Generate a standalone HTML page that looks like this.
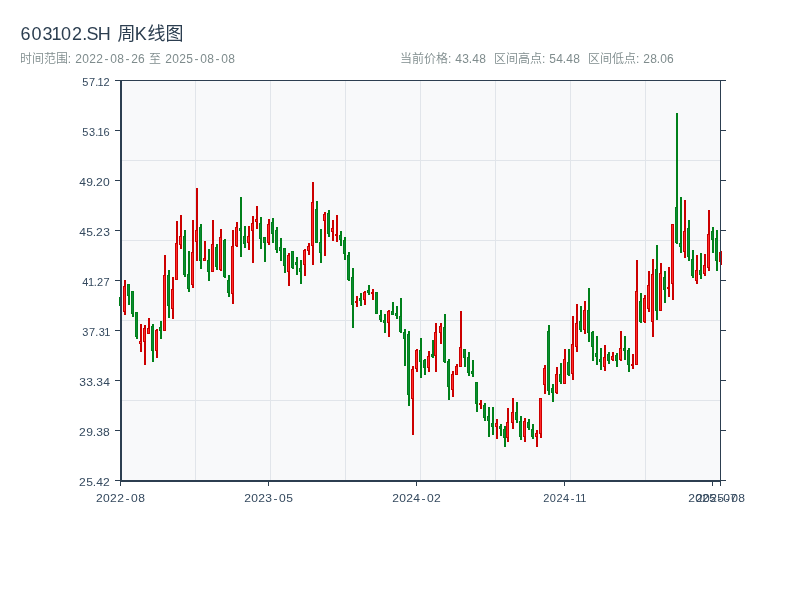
<!DOCTYPE html>
<html lang="zh-CN">
<head>
<meta charset="utf-8">
<title>603102.SH 周K线图</title>
<style>
html,body{margin:0;padding:0;background:#fff;}
body{width:800px;height:600px;overflow:hidden;position:relative;}
svg{position:absolute;left:0;top:0;display:block;}
svg text{font-family:"Liberation Sans","Noto Sans CJK SC",sans-serif;white-space:pre;}
</style>
</head>
<body>
<svg width="800" height="600" viewBox="0 0 800 600">
<g id="header">
<text x="20.43 31.49 42.55 51.5 60.99 71.99 82.25 86.5 97.75 110.5 117.5 134.86 147.5 165.5" y="40" font-size="18" fill="#2c3e50">603102.SH 周K线图</text>
<text x="20 32 44 56 67.83 71 75.16 82.16 89.16 96.16 104.5 110.16 117.16 125.5 131.16 138.12 145 149 161 165.16 172.16 179.16 186.17 194.5 200.16 207.16 215.5 221.16 228.16" y="63" font-size="12" fill="#7f8c8d" font-weight="350">时间范围: 2022-08-26 至 2025-08-08</text>
<text x="400 412 424 436 448.08 451.5 455.2 462.2 468.83 472.2 479.16" y="63" font-size="12" fill="#7f8c8d" font-weight="350">当前价格: 43.48</text>
<text x="494 506 518 530 542.08 545.5 549.17 556.2 562.83 566.2 573.16" y="63" font-size="12" fill="#7f8c8d" font-weight="350">区间高点: 54.48</text>
<text x="588 600 612 624 636.08 639.5 643.16 650.16 656.83 660.16 667.12" y="63" font-size="12" fill="#7f8c8d" font-weight="350">区间低点: 28.06</text>
</g>
<g shape-rendering="crispEdges">
<rect x="120" y="80" width="600" height="400" fill="#f8f9fa"/>
<g fill="#e1e5ea"><rect x="195" y="80" width="1" height="400"/><rect x="270" y="80" width="1" height="400"/><rect x="345" y="80" width="1" height="400"/><rect x="420" y="80" width="1" height="400"/><rect x="495" y="80" width="1" height="400"/><rect x="570" y="80" width="1" height="400"/><rect x="645" y="80" width="1" height="400"/><rect x="120" y="160" width="600" height="1"/><rect x="120" y="240" width="600" height="1"/><rect x="120" y="320" width="600" height="1"/><rect x="120" y="400" width="600" height="1"/></g>
<g id="candles">
<g fill="#00801a"><rect x="120" y="297" width="2" height="9"/><rect x="119" y="297" width="3" height="9"/><rect x="120" y="298" width="1" height="7" fill="#0a8c32"/></g>
<g fill="#cc0000"><rect x="124" y="280" width="2" height="35"/><rect x="123" y="286" width="3" height="26"/><rect x="124" y="287" width="1" height="24" fill="#ff2a2a"/></g>
<g fill="#00801a"><rect x="128" y="284" width="2" height="21"/><rect x="127" y="284" width="3" height="12"/><rect x="128" y="285" width="1" height="10" fill="#0a8c32"/></g>
<g fill="#00801a"><rect x="132" y="291" width="2" height="26"/><rect x="131" y="291" width="3" height="23"/><rect x="132" y="292" width="1" height="21" fill="#0a8c32"/></g>
<g fill="#00801a"><rect x="136" y="312" width="2" height="27"/><rect x="135" y="312" width="3" height="25"/><rect x="136" y="313" width="1" height="23" fill="#0a8c32"/></g>
<g fill="#cc0000"><rect x="140" y="324" width="2" height="28"/><rect x="139" y="341" width="3" height="3"/><rect x="140" y="342" width="1" height="1" fill="#ff2a2a"/></g>
<g fill="#cc0000"><rect x="144" y="325" width="2" height="40"/><rect x="143" y="328" width="3" height="14"/><rect x="144" y="329" width="1" height="12" fill="#ff2a2a"/></g>
<g fill="#cc0000"><rect x="148" y="318" width="2" height="16"/><rect x="147" y="328" width="3" height="6"/><rect x="148" y="329" width="1" height="4" fill="#ff2a2a"/></g>
<g fill="#00801a"><rect x="152" y="324" width="2" height="38"/><rect x="151" y="326" width="3" height="25"/><rect x="152" y="327" width="1" height="23" fill="#0a8c32"/></g>
<g fill="#cc0000"><rect x="156" y="329" width="2" height="29"/><rect x="155" y="330" width="3" height="21"/><rect x="156" y="331" width="1" height="19" fill="#ff2a2a"/></g>
<g fill="#00801a"><rect x="160" y="321" width="2" height="18"/><rect x="159" y="327" width="3" height="4"/><rect x="160" y="328" width="1" height="2" fill="#0a8c32"/></g>
<g fill="#cc0000"><rect x="164" y="255" width="2" height="76"/><rect x="163" y="275" width="3" height="56"/><rect x="164" y="276" width="1" height="54" fill="#ff2a2a"/></g>
<g fill="#00801a"><rect x="168" y="270" width="2" height="48"/><rect x="167" y="275" width="3" height="31"/><rect x="168" y="276" width="1" height="29" fill="#0a8c32"/></g>
<g fill="#cc0000"><rect x="172" y="277" width="2" height="42"/><rect x="171" y="289" width="3" height="20"/><rect x="172" y="290" width="1" height="18" fill="#ff2a2a"/></g>
<g fill="#cc0000"><rect x="176" y="221" width="2" height="59"/><rect x="175" y="243" width="3" height="37"/><rect x="176" y="244" width="1" height="35" fill="#ff2a2a"/></g>
<g fill="#cc0000"><rect x="180" y="215" width="2" height="34"/><rect x="179" y="236" width="3" height="9"/><rect x="180" y="237" width="1" height="7" fill="#ff2a2a"/></g>
<g fill="#00801a"><rect x="184" y="230" width="2" height="47"/><rect x="183" y="236" width="3" height="39"/><rect x="184" y="237" width="1" height="37" fill="#0a8c32"/></g>
<g fill="#00801a"><rect x="188" y="251" width="2" height="41"/><rect x="187" y="274" width="3" height="15"/><rect x="188" y="275" width="1" height="13" fill="#0a8c32"/></g>
<g fill="#cc0000"><rect x="192" y="220" width="2" height="68"/><rect x="191" y="252" width="3" height="33"/><rect x="192" y="253" width="1" height="31" fill="#ff2a2a"/></g>
<g fill="#cc0000"><rect x="196" y="188" width="2" height="73"/><rect x="195" y="230" width="3" height="12"/><rect x="196" y="231" width="1" height="10" fill="#ff2a2a"/></g>
<g fill="#00801a"><rect x="200" y="224" width="2" height="45"/><rect x="199" y="227" width="3" height="34"/><rect x="200" y="228" width="1" height="32" fill="#0a8c32"/></g>
<g fill="#cc0000"><rect x="204" y="241" width="2" height="20"/><rect x="203" y="258" width="3" height="3"/><rect x="204" y="259" width="1" height="1" fill="#ff2a2a"/></g>
<g fill="#00801a"><rect x="208" y="249" width="2" height="32"/><rect x="207" y="260" width="3" height="12"/><rect x="208" y="261" width="1" height="10" fill="#0a8c32"/></g>
<g fill="#cc0000"><rect x="212" y="220" width="2" height="52"/><rect x="211" y="244" width="3" height="28"/><rect x="212" y="245" width="1" height="26" fill="#ff2a2a"/></g>
<g fill="#00801a"><rect x="216" y="244" width="2" height="26"/><rect x="215" y="247" width="3" height="20"/><rect x="216" y="248" width="1" height="18" fill="#0a8c32"/></g>
<g fill="#cc0000"><rect x="220" y="229" width="2" height="42"/><rect x="219" y="237" width="3" height="33"/><rect x="220" y="238" width="1" height="31" fill="#ff2a2a"/></g>
<g fill="#00801a"><rect x="224" y="239" width="2" height="39"/><rect x="223" y="240" width="3" height="37"/><rect x="224" y="241" width="1" height="35" fill="#0a8c32"/></g>
<g fill="#00801a"><rect x="228" y="275" width="2" height="22"/><rect x="227" y="280" width="3" height="13"/><rect x="228" y="281" width="1" height="11" fill="#0a8c32"/></g>
<g fill="#cc0000"><rect x="232" y="230" width="2" height="74"/><rect x="231" y="246" width="3" height="48"/><rect x="232" y="247" width="1" height="46" fill="#ff2a2a"/></g>
<g fill="#cc0000"><rect x="236" y="222" width="2" height="25"/><rect x="235" y="227" width="3" height="19"/><rect x="236" y="228" width="1" height="17" fill="#ff2a2a"/></g>
<g fill="#00801a"><rect x="240" y="197" width="2" height="60"/><rect x="239" y="228" width="3" height="3"/><rect x="240" y="229" width="1" height="1" fill="#0a8c32"/></g>
<g fill="#00801a"><rect x="244" y="226" width="2" height="22"/><rect x="243" y="236" width="3" height="8"/><rect x="244" y="237" width="1" height="6" fill="#0a8c32"/></g>
<g fill="#cc0000"><rect x="248" y="226" width="2" height="24"/><rect x="247" y="236" width="3" height="7"/><rect x="248" y="237" width="1" height="5" fill="#ff2a2a"/></g>
<g fill="#cc0000"><rect x="252" y="216" width="2" height="47"/><rect x="251" y="223" width="3" height="8"/><rect x="252" y="224" width="1" height="6" fill="#ff2a2a"/></g>
<g fill="#cc0000"><rect x="256" y="206" width="2" height="23"/><rect x="255" y="219" width="3" height="3"/><rect x="256" y="220" width="1" height="1" fill="#ff2a2a"/></g>
<g fill="#00801a"><rect x="260" y="217" width="2" height="32"/><rect x="259" y="223" width="3" height="16"/><rect x="260" y="224" width="1" height="14" fill="#0a8c32"/></g>
<g fill="#00801a"><rect x="264" y="237" width="2" height="25"/><rect x="263" y="237" width="3" height="6"/><rect x="264" y="238" width="1" height="4" fill="#0a8c32"/></g>
<g fill="#cc0000"><rect x="268" y="219" width="2" height="26"/><rect x="267" y="224" width="3" height="19"/><rect x="268" y="225" width="1" height="17" fill="#ff2a2a"/></g>
<g fill="#00801a"><rect x="272" y="218" width="2" height="25"/><rect x="271" y="222" width="3" height="12"/><rect x="272" y="223" width="1" height="10" fill="#0a8c32"/></g>
<g fill="#00801a"><rect x="276" y="227" width="2" height="26"/><rect x="275" y="230" width="3" height="20"/><rect x="276" y="231" width="1" height="18" fill="#0a8c32"/></g>
<g fill="#00801a"><rect x="280" y="238" width="2" height="23"/><rect x="279" y="247" width="3" height="4"/><rect x="280" y="248" width="1" height="2" fill="#0a8c32"/></g>
<g fill="#00801a"><rect x="284" y="248" width="2" height="25"/><rect x="283" y="248" width="3" height="18"/><rect x="284" y="249" width="1" height="16" fill="#0a8c32"/></g>
<g fill="#cc0000"><rect x="288" y="253" width="2" height="33"/><rect x="287" y="255" width="3" height="17"/><rect x="288" y="256" width="1" height="15" fill="#ff2a2a"/></g>
<g fill="#00801a"><rect x="292" y="251" width="2" height="18"/><rect x="291" y="251" width="3" height="17"/><rect x="292" y="252" width="1" height="15" fill="#0a8c32"/></g>
<g fill="#00801a"><rect x="296" y="257" width="2" height="18"/><rect x="295" y="262" width="3" height="3"/><rect x="296" y="263" width="1" height="1" fill="#0a8c32"/></g>
<g fill="#00801a"><rect x="300" y="260" width="2" height="24"/><rect x="299" y="268" width="3" height="4"/><rect x="300" y="269" width="1" height="2" fill="#0a8c32"/></g>
<g fill="#cc0000"><rect x="304" y="249" width="2" height="27"/><rect x="303" y="250" width="3" height="15"/><rect x="304" y="251" width="1" height="13" fill="#ff2a2a"/></g>
<g fill="#cc0000"><rect x="308" y="243" width="2" height="12"/><rect x="307" y="246" width="3" height="5"/><rect x="308" y="247" width="1" height="3" fill="#ff2a2a"/></g>
<g fill="#cc0000"><rect x="312" y="182" width="2" height="83"/><rect x="311" y="202" width="3" height="44"/><rect x="312" y="203" width="1" height="42" fill="#ff2a2a"/></g>
<g fill="#00801a"><rect x="316" y="201" width="2" height="42"/><rect x="315" y="209" width="3" height="34"/><rect x="316" y="210" width="1" height="32" fill="#0a8c32"/></g>
<g fill="#00801a"><rect x="320" y="229" width="2" height="34"/><rect x="319" y="242" width="3" height="11"/><rect x="320" y="243" width="1" height="9" fill="#0a8c32"/></g>
<g fill="#cc0000"><rect x="324" y="212" width="2" height="44"/><rect x="323" y="214" width="3" height="7"/><rect x="324" y="215" width="1" height="5" fill="#ff2a2a"/></g>
<g fill="#00801a"><rect x="328" y="210" width="2" height="27"/><rect x="327" y="213" width="3" height="21"/><rect x="328" y="214" width="1" height="19" fill="#0a8c32"/></g>
<g fill="#cc0000"><rect x="332" y="220" width="2" height="21"/><rect x="331" y="228" width="3" height="4"/><rect x="332" y="229" width="1" height="2" fill="#ff2a2a"/></g>
<g fill="#cc0000"><rect x="336" y="215" width="2" height="27"/><rect x="335" y="234" width="3" height="2"/></g>
<g fill="#00801a"><rect x="340" y="231" width="2" height="15"/><rect x="339" y="235" width="3" height="5"/><rect x="340" y="236" width="1" height="3" fill="#0a8c32"/></g>
<g fill="#00801a"><rect x="344" y="237" width="2" height="23"/><rect x="343" y="240" width="3" height="14"/><rect x="344" y="241" width="1" height="12" fill="#0a8c32"/></g>
<g fill="#00801a"><rect x="348" y="252" width="2" height="29"/><rect x="347" y="255" width="3" height="25"/><rect x="348" y="256" width="1" height="23" fill="#0a8c32"/></g>
<g fill="#00801a"><rect x="352" y="268" width="2" height="60"/><rect x="351" y="277" width="3" height="28"/><rect x="352" y="278" width="1" height="26" fill="#0a8c32"/></g>
<g fill="#cc0000"><rect x="356" y="296" width="2" height="11"/><rect x="355" y="301" width="3" height="2"/></g>
<g fill="#00801a"><rect x="360" y="293" width="2" height="13"/><rect x="359" y="298" width="3" height="3"/><rect x="360" y="299" width="1" height="1" fill="#0a8c32"/></g>
<g fill="#cc0000"><rect x="364" y="291" width="2" height="14"/><rect x="363" y="292" width="3" height="8"/><rect x="364" y="293" width="1" height="6" fill="#ff2a2a"/></g>
<g fill="#00801a"><rect x="368" y="285" width="2" height="10"/><rect x="367" y="290" width="3" height="3"/><rect x="368" y="291" width="1" height="1" fill="#0a8c32"/></g>
<g fill="#cc0000"><rect x="372" y="289" width="2" height="11"/><rect x="371" y="292" width="3" height="2"/></g>
<g fill="#00801a"><rect x="376" y="292" width="2" height="22"/><rect x="375" y="292" width="3" height="22"/><rect x="376" y="293" width="1" height="20" fill="#0a8c32"/></g>
<g fill="#00801a"><rect x="380" y="310" width="2" height="12"/><rect x="379" y="315" width="3" height="5"/><rect x="380" y="316" width="1" height="3" fill="#0a8c32"/></g>
<g fill="#00801a"><rect x="384" y="314" width="2" height="19"/><rect x="383" y="320" width="3" height="3"/><rect x="384" y="321" width="1" height="1" fill="#0a8c32"/></g>
<g fill="#cc0000"><rect x="388" y="310" width="2" height="27"/><rect x="387" y="311" width="3" height="12"/><rect x="388" y="312" width="1" height="10" fill="#ff2a2a"/></g>
<g fill="#00801a"><rect x="392" y="302" width="2" height="13"/><rect x="391" y="311" width="3" height="4"/><rect x="392" y="312" width="1" height="2" fill="#0a8c32"/></g>
<g fill="#00801a"><rect x="396" y="306" width="2" height="13"/><rect x="395" y="313" width="3" height="3"/><rect x="396" y="314" width="1" height="1" fill="#0a8c32"/></g>
<g fill="#00801a"><rect x="400" y="298" width="2" height="35"/><rect x="399" y="316" width="3" height="16"/><rect x="400" y="317" width="1" height="14" fill="#0a8c32"/></g>
<g fill="#00801a"><rect x="404" y="329" width="2" height="37"/><rect x="403" y="332" width="3" height="7"/><rect x="404" y="333" width="1" height="5" fill="#0a8c32"/></g>
<g fill="#00801a"><rect x="408" y="331" width="2" height="75"/><rect x="407" y="334" width="3" height="61"/><rect x="408" y="335" width="1" height="59" fill="#0a8c32"/></g>
<g fill="#cc0000"><rect x="412" y="366" width="2" height="69"/><rect x="411" y="369" width="3" height="30"/><rect x="412" y="370" width="1" height="28" fill="#ff2a2a"/></g>
<g fill="#cc0000"><rect x="416" y="349" width="2" height="23"/><rect x="415" y="350" width="3" height="19"/><rect x="416" y="351" width="1" height="17" fill="#ff2a2a"/></g>
<g fill="#00801a"><rect x="420" y="338" width="2" height="40"/><rect x="419" y="350" width="3" height="12"/><rect x="420" y="351" width="1" height="10" fill="#0a8c32"/></g>
<g fill="#00801a"><rect x="424" y="359" width="2" height="16"/><rect x="423" y="360" width="3" height="8"/><rect x="424" y="361" width="1" height="6" fill="#0a8c32"/></g>
<g fill="#cc0000"><rect x="428" y="351" width="2" height="21"/><rect x="427" y="356" width="3" height="12"/><rect x="428" y="357" width="1" height="10" fill="#ff2a2a"/></g>
<g fill="#00801a"><rect x="432" y="340" width="2" height="18"/><rect x="431" y="354" width="3" height="3"/><rect x="432" y="355" width="1" height="1" fill="#0a8c32"/></g>
<g fill="#cc0000"><rect x="435" y="323" width="2" height="49"/><rect x="434" y="332" width="3" height="24"/><rect x="435" y="333" width="1" height="22" fill="#ff2a2a"/></g>
<g fill="#cc0000"><rect x="440" y="323" width="2" height="21"/><rect x="439" y="326" width="3" height="7"/><rect x="440" y="327" width="1" height="5" fill="#ff2a2a"/></g>
<g fill="#00801a"><rect x="444" y="314" width="2" height="49"/><rect x="443" y="327" width="3" height="35"/><rect x="444" y="328" width="1" height="33" fill="#0a8c32"/></g>
<g fill="#00801a"><rect x="448" y="359" width="2" height="41"/><rect x="447" y="361" width="3" height="26"/><rect x="448" y="362" width="1" height="24" fill="#0a8c32"/></g>
<g fill="#cc0000"><rect x="452" y="371" width="2" height="26"/><rect x="451" y="374" width="3" height="16"/><rect x="452" y="375" width="1" height="14" fill="#ff2a2a"/></g>
<g fill="#cc0000"><rect x="456" y="364" width="2" height="11"/><rect x="455" y="366" width="3" height="9"/><rect x="456" y="367" width="1" height="7" fill="#ff2a2a"/></g>
<g fill="#cc0000"><rect x="460" y="311" width="2" height="56"/><rect x="459" y="347" width="3" height="20"/><rect x="460" y="348" width="1" height="18" fill="#ff2a2a"/></g>
<g fill="#00801a"><rect x="464" y="349" width="2" height="18"/><rect x="463" y="349" width="3" height="9"/><rect x="464" y="350" width="1" height="7" fill="#0a8c32"/></g>
<g fill="#00801a"><rect x="468" y="352" width="2" height="24"/><rect x="467" y="357" width="3" height="16"/><rect x="468" y="358" width="1" height="14" fill="#0a8c32"/></g>
<g fill="#00801a"><rect x="472" y="360" width="2" height="17"/><rect x="471" y="371" width="3" height="3"/><rect x="472" y="372" width="1" height="1" fill="#0a8c32"/></g>
<g fill="#00801a"><rect x="476" y="382" width="2" height="30"/><rect x="475" y="382" width="3" height="22"/><rect x="476" y="383" width="1" height="20" fill="#0a8c32"/></g>
<g fill="#cc0000"><rect x="480" y="400" width="2" height="9"/><rect x="479" y="403" width="3" height="2"/></g>
<g fill="#00801a"><rect x="484" y="403" width="2" height="18"/><rect x="483" y="405" width="3" height="13"/><rect x="484" y="406" width="1" height="11" fill="#0a8c32"/></g>
<g fill="#00801a"><rect x="488" y="407" width="2" height="30"/><rect x="487" y="416" width="3" height="5"/><rect x="488" y="417" width="1" height="3" fill="#0a8c32"/></g>
<g fill="#00801a"><rect x="492" y="407" width="2" height="28"/><rect x="491" y="423" width="3" height="4"/><rect x="492" y="424" width="1" height="2" fill="#0a8c32"/></g>
<g fill="#cc0000"><rect x="496" y="419" width="2" height="20"/><rect x="495" y="423" width="3" height="4"/><rect x="496" y="424" width="1" height="2" fill="#ff2a2a"/></g>
<g fill="#00801a"><rect x="500" y="424" width="2" height="12"/><rect x="499" y="426" width="3" height="3"/><rect x="500" y="427" width="1" height="1" fill="#0a8c32"/></g>
<g fill="#00801a"><rect x="504" y="426" width="2" height="21"/><rect x="503" y="429" width="3" height="9"/><rect x="504" y="430" width="1" height="7" fill="#0a8c32"/></g>
<g fill="#cc0000"><rect x="507" y="408" width="2" height="34"/><rect x="506" y="422" width="3" height="16"/><rect x="507" y="423" width="1" height="14" fill="#ff2a2a"/></g>
<g fill="#cc0000"><rect x="512" y="398" width="2" height="31"/><rect x="511" y="412" width="3" height="11"/><rect x="512" y="413" width="1" height="9" fill="#ff2a2a"/></g>
<g fill="#00801a"><rect x="516" y="402" width="2" height="21"/><rect x="515" y="412" width="3" height="8"/><rect x="516" y="413" width="1" height="6" fill="#0a8c32"/></g>
<g fill="#00801a"><rect x="520" y="416" width="2" height="24"/><rect x="519" y="421" width="3" height="16"/><rect x="520" y="422" width="1" height="14" fill="#0a8c32"/></g>
<g fill="#cc0000"><rect x="524" y="418" width="2" height="24"/><rect x="523" y="421" width="3" height="16"/><rect x="524" y="422" width="1" height="14" fill="#ff2a2a"/></g>
<g fill="#00801a"><rect x="528" y="419" width="2" height="11"/><rect x="527" y="422" width="3" height="6"/><rect x="528" y="423" width="1" height="4" fill="#0a8c32"/></g>
<g fill="#00801a"><rect x="532" y="424" width="2" height="15"/><rect x="531" y="429" width="3" height="8"/><rect x="532" y="430" width="1" height="6" fill="#0a8c32"/></g>
<g fill="#cc0000"><rect x="536" y="430" width="2" height="17"/><rect x="535" y="433" width="3" height="4"/><rect x="536" y="434" width="1" height="2" fill="#ff2a2a"/></g>
<g fill="#cc0000"><rect x="540" y="398" width="2" height="40"/><rect x="539" y="398" width="3" height="36"/><rect x="540" y="399" width="1" height="34" fill="#ff2a2a"/></g>
<g fill="#cc0000"><rect x="544" y="365" width="2" height="29"/><rect x="543" y="368" width="3" height="17"/><rect x="544" y="369" width="1" height="15" fill="#ff2a2a"/></g>
<g fill="#00801a"><rect x="548" y="325" width="2" height="70"/><rect x="547" y="331" width="3" height="60"/><rect x="548" y="332" width="1" height="58" fill="#0a8c32"/></g>
<g fill="#00801a"><rect x="552" y="384" width="2" height="18"/><rect x="551" y="388" width="3" height="5"/><rect x="552" y="389" width="1" height="3" fill="#0a8c32"/></g>
<g fill="#cc0000"><rect x="556" y="367" width="2" height="27"/><rect x="555" y="374" width="3" height="19"/><rect x="556" y="375" width="1" height="17" fill="#ff2a2a"/></g>
<g fill="#00801a"><rect x="560" y="363" width="2" height="21"/><rect x="559" y="374" width="3" height="8"/><rect x="560" y="375" width="1" height="6" fill="#0a8c32"/></g>
<g fill="#cc0000"><rect x="564" y="349" width="2" height="35"/><rect x="563" y="359" width="3" height="25"/><rect x="564" y="360" width="1" height="23" fill="#ff2a2a"/></g>
<g fill="#00801a"><rect x="568" y="349" width="2" height="27"/><rect x="567" y="362" width="3" height="13"/><rect x="568" y="363" width="1" height="11" fill="#0a8c32"/></g>
<g fill="#cc0000"><rect x="572" y="316" width="2" height="64"/><rect x="571" y="344" width="3" height="30"/><rect x="572" y="345" width="1" height="28" fill="#ff2a2a"/></g>
<g fill="#cc0000"><rect x="576" y="304" width="2" height="48"/><rect x="575" y="323" width="3" height="24"/><rect x="576" y="324" width="1" height="22" fill="#ff2a2a"/></g>
<g fill="#00801a"><rect x="580" y="306" width="2" height="26"/><rect x="579" y="321" width="3" height="9"/><rect x="580" y="322" width="1" height="7" fill="#0a8c32"/></g>
<g fill="#cc0000"><rect x="584" y="301" width="2" height="33"/><rect x="583" y="310" width="3" height="20"/><rect x="584" y="311" width="1" height="18" fill="#ff2a2a"/></g>
<g fill="#00801a"><rect x="588" y="288" width="2" height="54"/><rect x="587" y="310" width="3" height="23"/><rect x="588" y="311" width="1" height="21" fill="#0a8c32"/></g>
<g fill="#00801a"><rect x="592" y="331" width="2" height="30"/><rect x="591" y="332" width="3" height="15"/><rect x="592" y="333" width="1" height="13" fill="#0a8c32"/></g>
<g fill="#00801a"><rect x="596" y="336" width="2" height="29"/><rect x="595" y="353" width="3" height="4"/><rect x="596" y="354" width="1" height="2" fill="#0a8c32"/></g>
<g fill="#00801a"><rect x="600" y="348" width="2" height="22"/><rect x="599" y="359" width="3" height="3"/><rect x="600" y="360" width="1" height="1" fill="#0a8c32"/></g>
<g fill="#cc0000"><rect x="604" y="345" width="2" height="26"/><rect x="603" y="357" width="3" height="10"/><rect x="604" y="358" width="1" height="8" fill="#ff2a2a"/></g>
<g fill="#00801a"><rect x="608" y="352" width="2" height="12"/><rect x="607" y="354" width="3" height="7"/><rect x="608" y="355" width="1" height="5" fill="#0a8c32"/></g>
<g fill="#cc0000"><rect x="612" y="352" width="2" height="9"/><rect x="611" y="356" width="3" height="4"/><rect x="612" y="357" width="1" height="2" fill="#ff2a2a"/></g>
<g fill="#00801a"><rect x="616" y="353" width="2" height="14"/><rect x="615" y="355" width="3" height="6"/><rect x="616" y="356" width="1" height="4" fill="#0a8c32"/></g>
<g fill="#cc0000"><rect x="620" y="331" width="2" height="30"/><rect x="619" y="348" width="3" height="12"/><rect x="620" y="349" width="1" height="10" fill="#ff2a2a"/></g>
<g fill="#00801a"><rect x="624" y="336" width="2" height="24"/><rect x="623" y="348" width="3" height="3"/><rect x="624" y="349" width="1" height="1" fill="#0a8c32"/></g>
<g fill="#00801a"><rect x="628" y="348" width="2" height="24"/><rect x="627" y="350" width="3" height="15"/><rect x="628" y="351" width="1" height="13" fill="#0a8c32"/></g>
<g fill="#cc0000"><rect x="632" y="354" width="2" height="15"/><rect x="631" y="364" width="3" height="2"/></g>
<g fill="#cc0000"><rect x="636" y="260" width="2" height="105"/><rect x="635" y="291" width="3" height="74"/><rect x="636" y="292" width="1" height="72" fill="#ff2a2a"/></g>
<g fill="#00801a"><rect x="640" y="293" width="2" height="30"/><rect x="639" y="301" width="3" height="21"/><rect x="640" y="302" width="1" height="19" fill="#0a8c32"/></g>
<g fill="#cc0000"><rect x="644" y="295" width="2" height="28"/><rect x="643" y="298" width="3" height="24"/><rect x="644" y="299" width="1" height="22" fill="#ff2a2a"/></g>
<g fill="#cc0000"><rect x="648" y="271" width="2" height="41"/><rect x="647" y="285" width="3" height="24"/><rect x="648" y="286" width="1" height="22" fill="#ff2a2a"/></g>
<g fill="#cc0000"><rect x="652" y="259" width="2" height="78"/><rect x="651" y="274" width="3" height="48"/><rect x="652" y="275" width="1" height="46" fill="#ff2a2a"/></g>
<g fill="#00801a"><rect x="656" y="245" width="2" height="75"/><rect x="655" y="269" width="3" height="42"/><rect x="656" y="270" width="1" height="40" fill="#0a8c32"/></g>
<g fill="#cc0000"><rect x="660" y="263" width="2" height="48"/><rect x="659" y="273" width="3" height="38"/><rect x="660" y="274" width="1" height="36" fill="#ff2a2a"/></g>
<g fill="#00801a"><rect x="664" y="271" width="2" height="32"/><rect x="663" y="277" width="3" height="13"/><rect x="664" y="278" width="1" height="11" fill="#0a8c32"/></g>
<g fill="#cc0000"><rect x="668" y="267" width="2" height="30"/><rect x="667" y="287" width="3" height="2"/></g>
<g fill="#cc0000"><rect x="672" y="224" width="2" height="76"/><rect x="671" y="224" width="3" height="60"/><rect x="672" y="225" width="1" height="58" fill="#ff2a2a"/></g>
<g fill="#00801a"><rect x="676" y="113" width="2" height="131"/><rect x="675" y="207" width="3" height="36"/><rect x="676" y="208" width="1" height="34" fill="#0a8c32"/></g>
<g fill="#00801a"><rect x="680" y="197" width="2" height="56"/><rect x="679" y="243" width="3" height="4"/><rect x="680" y="244" width="1" height="2" fill="#0a8c32"/></g>
<g fill="#cc0000"><rect x="684" y="200" width="2" height="58"/><rect x="683" y="231" width="3" height="21"/><rect x="684" y="232" width="1" height="19" fill="#ff2a2a"/></g>
<g fill="#00801a"><rect x="688" y="220" width="2" height="41"/><rect x="687" y="228" width="3" height="29"/><rect x="688" y="229" width="1" height="27" fill="#0a8c32"/></g>
<g fill="#00801a"><rect x="692" y="250" width="2" height="28"/><rect x="691" y="259" width="3" height="17"/><rect x="692" y="260" width="1" height="15" fill="#0a8c32"/></g>
<g fill="#cc0000"><rect x="696" y="255" width="2" height="29"/><rect x="695" y="270" width="3" height="11"/><rect x="696" y="271" width="1" height="9" fill="#ff2a2a"/></g>
<g fill="#00801a"><rect x="700" y="253" width="2" height="26"/><rect x="699" y="270" width="3" height="5"/><rect x="700" y="271" width="1" height="3" fill="#0a8c32"/></g>
<g fill="#cc0000"><rect x="704" y="254" width="2" height="22"/><rect x="703" y="265" width="3" height="9"/><rect x="704" y="266" width="1" height="7" fill="#ff2a2a"/></g>
<g fill="#cc0000"><rect x="708" y="210" width="2" height="61"/><rect x="707" y="234" width="3" height="34"/><rect x="708" y="235" width="1" height="32" fill="#ff2a2a"/></g>
<g fill="#00801a"><rect x="712" y="227" width="2" height="26"/><rect x="711" y="231" width="3" height="9"/><rect x="712" y="232" width="1" height="7" fill="#0a8c32"/></g>
<g fill="#00801a"><rect x="716" y="230" width="2" height="41"/><rect x="715" y="238" width="3" height="23"/><rect x="716" y="239" width="1" height="21" fill="#0a8c32"/></g>
<g fill="#cc0000"><rect x="720" y="251" width="2" height="14"/><rect x="719" y="252" width="3" height="10"/><rect x="720" y="253" width="1" height="8" fill="#ff2a2a"/></g>
</g>
<g fill="#2c3e50"><rect x="120" y="80" width="601" height="1"/><rect x="720" y="80" width="1" height="402"/><rect x="120" y="80" width="2" height="402"/><rect x="120" y="480" width="601" height="2"/><rect x="115" y="80" width="5" height="1"/><rect x="721" y="80" width="5" height="1"/><rect x="115" y="130" width="5" height="1"/><rect x="721" y="130" width="5" height="1"/><rect x="115" y="180" width="5" height="1"/><rect x="721" y="180" width="5" height="1"/><rect x="115" y="230" width="5" height="1"/><rect x="721" y="230" width="5" height="1"/><rect x="115" y="280" width="5" height="1"/><rect x="721" y="280" width="5" height="1"/><rect x="115" y="330" width="5" height="1"/><rect x="721" y="330" width="5" height="1"/><rect x="115" y="380" width="5" height="1"/><rect x="721" y="380" width="5" height="1"/><rect x="115" y="430" width="5" height="1"/><rect x="721" y="430" width="5" height="1"/><rect x="115" y="480" width="5" height="1"/><rect x="721" y="480" width="5" height="1"/><rect x="120" y="482" width="1" height="4"/><rect x="268" y="482" width="1" height="4"/><rect x="416" y="482" width="1" height="4"/><rect x="564" y="482" width="1" height="4"/><rect x="712" y="482" width="1" height="4"/><rect x="720" y="482" width="1" height="4"/></g>
</g>
<g id="ylabels">
<text x="82.29 88.94 95.31 97.62 103.61" y="86" font-size="11" fill="#34495e">57.12</text>
<text x="82.29 88.97 95.31 97.62 103.57" y="136" font-size="11" fill="#34495e">53.16</text>
<text x="71.98 78.31 84.38 87.4 93.76" y="186" font-size="11" fill="#34495e" transform="scale(1.1 1)">49.20</text>
<text x="71.98 78.32 84.38 87.4 93.79" y="236" font-size="11" fill="#34495e" transform="scale(1.1 1)">45.23</text>
<text x="82.31 87.96 93.64 96.94 103.6" y="286" font-size="11" fill="#34495e">41.27</text>
<text x="82.31 88.94 95.31 98.64 104.29" y="336" font-size="11" fill="#34495e">37.31</text>
<text x="71.97 78.34 84.38 87.43 93.79" y="386" font-size="11" fill="#34495e" transform="scale(1.1 1)">33.34</text>
<text x="71.94 78.31 84.38 87.43 93.76" y="436" font-size="11" fill="#34495e" transform="scale(1.1 1)">29.38</text>
<text x="71.94 78.32 84.38 87.43 93.76" y="486" font-size="11" fill="#34495e" transform="scale(1.1 1)">25.42</text>
</g>
<g id="xlabels">
<text x="87.4 93.76 100.12 106.49 114.08 119.21 125.58" y="502" font-size="11" fill="#34495e" transform="scale(1.1 1)">2022-08</text>
<text x="221.94 228.3 234.67 241.06 248.62 253.76 260.13" y="502" font-size="11" fill="#34495e" transform="scale(1.1 1)">2023-05</text>
<text x="356.49 362.85 369.21 375.61 383.17 388.3 394.67" y="502" font-size="11" fill="#34495e" transform="scale(1.1 1)">2024-02</text>
<text x="543.24 549.84 556.44 563.08 570.87 575.29 580.29" y="502" font-size="11" fill="#34495e">2024-11</text>
<text x="625.58 631.94 638.3 644.68 652.26 657.4 663.75" y="502" font-size="11" fill="#34495e" transform="scale(1.1 1)">2025-07</text>
<text x="632.85 639.21 645.58 651.95 659.53 664.67 671.03" y="502" font-size="11" fill="#34495e" transform="scale(1.1 1)">2025-08</text>
</g>
</svg>
</body>
</html>
